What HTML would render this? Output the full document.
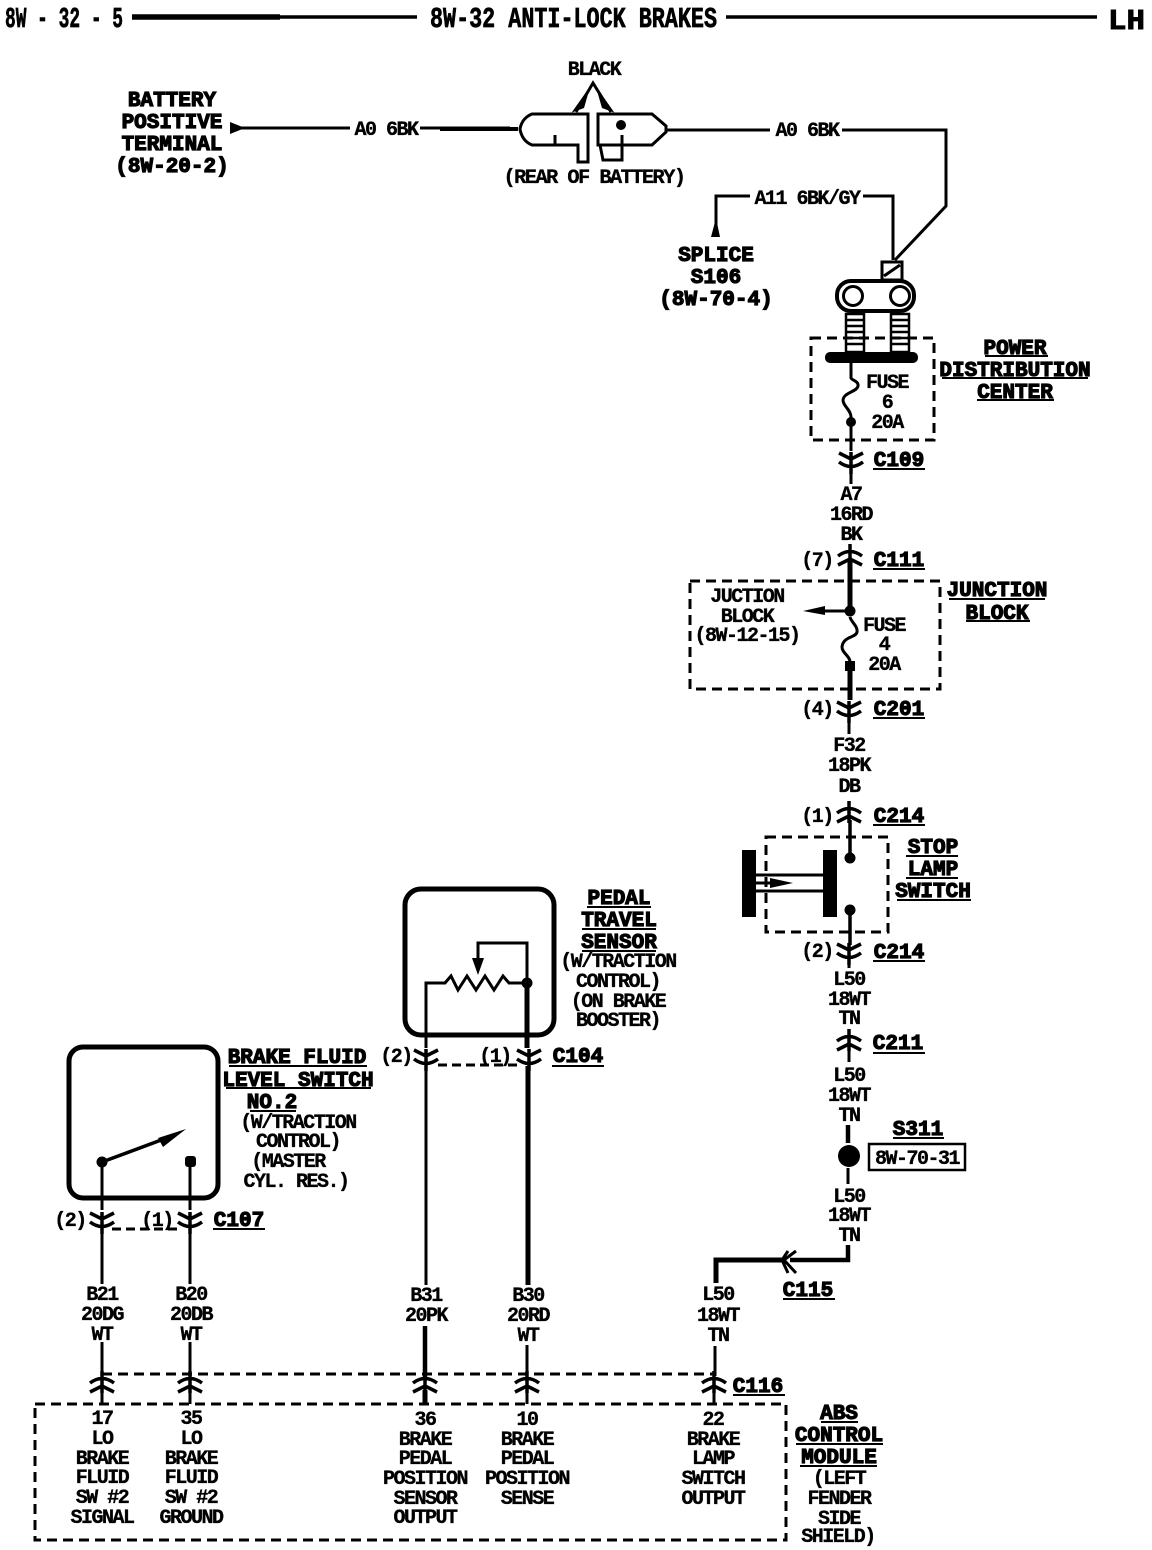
<!DOCTYPE html>
<html><head><meta charset="utf-8"><style>
html,body{margin:0;padding:0;background:#fff}
svg{display:block}
text{font-family:"Liberation Mono",monospace;font-weight:bold;fill:#000}
.t{font-size:20px;letter-spacing:-1.5px;text-anchor:middle;stroke:#000;stroke-width:.35px}
.h{font-size:21px;letter-spacing:0;text-anchor:middle;stroke:#000;stroke-width:1.2px}
.w{fill:none;stroke:#000;stroke-width:3}
.k{fill:none;stroke:#000;stroke-width:5}
.d{fill:none;stroke:#000;stroke-width:3;stroke-dasharray:10 6}
</style></head><body>
<svg width="1152" height="1550" viewBox="0 0 1152 1550" xmlns="http://www.w3.org/2000/svg">
<defs>
<g id="dn"><path d="M-12,-7L0,-1L12,-7M-12,2Q0,11 12,2M0,-8V14" fill="none" stroke="#000" stroke-width="3.5"/></g>
<g id="up"><path d="M-12,7L0,1L12,7M-12,-2Q0,-11 12,-2M0,8V-14" fill="none" stroke="#000" stroke-width="3.5"/></g>
</defs>

<!-- header -->
<text x="5" y="27" textLength="118" lengthAdjust="spacingAndGlyphs" style="font-size:29px;stroke:#000;stroke-width:.7px">8W - 32 - 5</text>
<text x="430" y="27" textLength="287" lengthAdjust="spacingAndGlyphs" style="font-size:29px;stroke:#000;stroke-width:.7px">8W-32 ANTI-LOCK BRAKES</text>
<text x="1108" y="29" textLength="37" lengthAdjust="spacingAndGlyphs" style="font-size:29px;stroke:#000;stroke-width:.9px">LH</text>
<path d="M132,17H280" class="w" style="stroke-width:5.5"/>
<path d="M280,17H417M726,17H1097" class="w" style="stroke-width:3.5"/>

<!-- battery connector -->
<text x="172" y="106" class="h">BATTERY</text>
<text x="172" y="128" class="h">POSITIVE</text>
<text x="172" y="150" class="h">TERMINAL</text>
<text x="172" y="172" class="h">(8W-20-2)</text>
<path d="M231,128H350M420,128H510" class="w"/>
<path d="M230,122V134L245,128Z"/>
<path d="M440,129H518" class="k" style="stroke-width:4"/>
<text x="386" y="135" class="t">A0 6BK</text>
<text x="807" y="136" class="t">A0 6BK</text>
<text x="594" y="75" class="t">BLACK</text>
<path d="M520,129Q522,118 532,114H588V162H578V145H532Q522,141 520,129ZM555,135V145" class="w"/>
<path d="M598,114H652L666,126V132L652,145H598ZM600,145L603,160H622V135" class="w"/>
<circle cx="621" cy="125" r="5"/>
<path d="M576,112L593,83L611,112" fill="none" stroke="#000" stroke-width="3"/>
<path d="M575,110L587,93L583,107ZM611,110L599,93L603,107Z" stroke="#000" stroke-width="2.5"/>
<text x="594" y="183" class="t" textLength="181" lengthAdjust="spacingAndGlyphs">(REAR OF BATTERY)</text>
<path d="M666,130H770M842,130H946V206L895,260" class="w"/>
<path d="M863,196H893V260M750,196H716V226" class="w"/>
<path d="M711,237L716,218L720,237Z"/>
<text x="807" y="204" class="t">A11 6BK/GY</text>
<text x="716" y="261" class="h">SPLICE</text>
<text x="716" y="283" class="h">S106</text>
<text x="716" y="305" class="h">(8W-70-4)</text>

<!-- PDC terminals -->
<rect x="882" y="262" width="20" height="18" class="w"/>
<path d="M884,276L900,265" class="w"/>
<rect x="837" y="281" width="77" height="30" rx="14" fill="#fff" stroke="#000" stroke-width="4"/>
<circle cx="853" cy="296" r="9.5" fill="#fff" stroke="#000" stroke-width="3"/>
<circle cx="900" cy="296" r="9.5" fill="#fff" stroke="#000" stroke-width="3"/>
<path d="M846,314H864V352H846Z" fill="#fff" stroke="#000" stroke-width="2.5"/>
<path d="M891,314H909V352H891Z" fill="#fff" stroke="#000" stroke-width="2.5"/>
<path d="M845,320H865M845,326H865M845,332H865M845,338H865M845,344H865M890,320H910M890,326H910M890,332H910M890,338H910M890,344H910" stroke="#000" stroke-width="2.5"/>
<rect x="825" y="352" width="93" height="11" rx="5"/>
<rect x="811" y="338" width="123" height="102" class="d"/>
<path d="M851,363V378C851,380 859,381 858,386C857,392 844,392 843,400C843,406 851,410 851,417V451" class="w"/>
<circle cx="851" cy="422" r="5"/>
<text x="887" y="388" class="t">FUSE</text>
<text x="887" y="408" class="t">6</text>
<text x="887" y="428" class="t">20A</text>
<text x="1015" y="354" class="h">POWER</text>
<text x="1015" y="376" class="h">DISTRIBUTION</text>
<text x="1015" y="398" class="h">CENTER</text>
<path d="M985,356H1048M942,378H1088M977,400H1054" class="w" style="stroke-width:2"/>

<!-- main wire down -->
<use href="#dn" x="851" y="460"/>
<path d="M851,470V484" class="w"/>
<text x="851" y="500" class="t">A7</text>
<text x="851" y="520" class="t">16RD</text>
<text x="851" y="540" class="t">BK</text>
<use href="#up" x="850" y="558"/>
<text x="899" y="566" class="h">C111</text>
<text x="899" y="466" class="h">C109</text>
<rect x="873" y="468" width="52" height="2"/>
<rect x="873" y="568" width="52" height="2"/>
<rect x="873" y="717" width="52" height="2"/>
<rect x="873" y="824" width="52" height="2"/>
<rect x="873" y="960" width="52" height="2"/>
<rect x="873" y="1052" width="52" height="2"/>
<text x="817" y="566" class="t">(7)</text>

<!-- junction block -->
<rect x="690" y="581" width="250" height="108" class="d"/>
<path d="M850,560V611" class="k"/>
<circle cx="850" cy="611" r="5.5"/>
<path d="M850,611H818" class="w"/>
<path d="M803,611L825,606V615Z"/>
<path d="M850,617C851,622 858,626 857,632C856,638 843,636 842,647C842,653 850,656 850,662" class="w"/>
<rect x="845" y="661" width="10" height="10"/>
<path d="M850,670V700" class="k"/>
<text x="747" y="602" class="t">JUCTION</text>
<text x="747" y="622" class="t">BLOCK</text>
<text x="747" y="641" class="t">(8W-12-15)</text>
<text x="884" y="631" class="t">FUSE</text>
<text x="884" y="650" class="t">4</text>
<text x="884" y="670" class="t">20A</text>
<text x="997" y="596" class="h">JUNCTION</text>
<text x="997" y="619" class="h">BLOCK</text>
<path d="M949,599H1045M966,621H1030" class="w" style="stroke-width:2"/>
<use href="#dn" x="849" y="709"/>
<text x="817" y="715" class="t">(4)</text>
<text x="899" y="715" class="h">C201</text>
<path d="M849,719V734" class="w"/>
<text x="849" y="751" class="t">F32</text>
<text x="849" y="771" class="t">18PK</text>
<text x="849" y="792" class="t">DB</text>
<use href="#up" x="849" y="815"/>
<text x="817" y="822" class="t">(1)</text>
<text x="899" y="822" class="h">C214</text>

<!-- stop lamp switch -->
<rect x="766" y="837" width="122" height="95" class="d"/>
<path d="M850,820V858M850,910V945" class="w" style="stroke-width:3.5"/>
<circle cx="850" cy="858" r="5.5"/>
<circle cx="850" cy="910" r="5.5"/>
<rect x="742" y="850" width="14" height="67"/>
<rect x="823" y="850" width="14" height="67"/>
<path d="M756,875H823M756,891H823M756,883H780" class="w"/>
<path d="M793,883L770,878V888Z"/>
<text x="933" y="853" class="h">STOP</text>
<text x="933" y="875" class="h">LAMP</text>
<text x="933" y="897" class="h">SWITCH</text>
<path d="M906,856H958M906,878H958M897,900H971" class="w" style="stroke-width:2"/>
<use href="#dn" x="849" y="951"/>
<text x="817" y="957" class="t">(2)</text>
<text x="899" y="958" class="h">C214</text>
<path d="M849,961V968" class="w"/>
<text x="849" y="985" class="t">L50</text>
<text x="849" y="1005" class="t">18WT</text>
<text x="849" y="1024" class="t">TN</text>
<use href="#up" x="849" y="1043"/>
<path d="M849,1050V1062" class="w"/>
<text x="898" y="1049" class="h">C211</text>
<text x="849" y="1081" class="t">L50</text>
<text x="849" y="1101" class="t">18WT</text>
<text x="849" y="1121" class="t">TN</text>
<path d="M848,1125V1143" class="k" style="stroke-width:4.5"/>
<path d="M848,1168V1184" class="w"/>
<circle cx="849" cy="1156" r="11"/>
<text x="918" y="1135" class="h">S311</text>
<path d="M893,1138H944" class="w" style="stroke-width:2"/>
<rect x="869" y="1144" width="96" height="26" fill="none" stroke="#000" stroke-width="2.5"/>
<text x="917" y="1164" class="t">8W-70-31</text>
<text x="849" y="1202" class="t">L50</text>
<text x="849" y="1221" class="t">18WT</text>
<text x="849" y="1241" class="t">TN</text>
<path d="M848,1245V1260H790" class="k" style="stroke-width:4.5"/>
<path d="M796,1251L784,1260L796,1273M788,1251L782,1260L788,1273" fill="none" stroke="#000" stroke-width="3"/>
<path d="M782,1260H716V1283" class="k" style="stroke-width:5"/>
<text x="808" y="1296" class="h">C115</text>
<path d="M783,1299H835" class="w" style="stroke-width:2"/>
<text x="718" y="1300" class="t">L50</text>
<text x="718" y="1321" class="t">18WT</text>
<text x="718" y="1341" class="t">TN</text>
<path d="M715,1346V1376" class="w"/>

<!-- pedal travel sensor -->
<rect x="405" y="889" width="149" height="146" rx="16" class="k"/>
<path d="M426,1048V983H445L451,976L458,990L467,976L476,990L485,976L494,990L503,976L509,983H527" class="w"/>
<circle cx="527" cy="983" r="5.5"/>
<path d="M478,968V943H527V983" class="w"/>
<path d="M472,958L478,975L484,958Z"/>
<text x="619" y="904" class="h">PEDAL</text>
<text x="619" y="926" class="h">TRAVEL</text>
<text x="619" y="948" class="h">SENSOR</text>
<path d="M587,907H651M582,929H656M582,951H656" class="w" style="stroke-width:2"/>
<text x="618" y="967" class="t">(W/TRACTION</text>
<text x="618" y="987" class="t">CONTROL)</text>
<text x="618" y="1007" class="t">(ON BRAKE</text>
<text x="618" y="1026" class="t">BOOSTER)</text>
<use href="#dn" x="426" y="1057"/>
<use href="#dn" x="529" y="1057"/>
<text x="396" y="1062" class="t">(2)</text>
<text x="495" y="1062" class="t">(1)</text>
<text x="578" y="1062" class="h">C104</text>
<rect x="552" y="1065" width="52" height="2"/>
<path d="M438,1065H517" class="d" style="stroke-dasharray:9 5"/>
<path d="M426,1065V1285" class="w"/>
<path d="M527,983V1048M528,1066V1285" class="k"/>
<text x="426" y="1301" class="t">B31</text>
<text x="426" y="1321" class="t">20PK</text>
<text x="528" y="1301" class="t">B30</text>
<text x="528" y="1321" class="t">20RD</text>
<text x="528" y="1341" class="t">WT</text>
<path d="M425,1326V1378" class="k" style="stroke-width:4.5"/>
<path d="M527,1345V1378" class="w"/>

<!-- brake fluid switch -->
<rect x="69" y="1047" width="149" height="151" rx="14" class="k"/>
<circle cx="102" cy="1162" r="5.5"/>
<rect x="185" y="1156" width="11" height="11" rx="3"/>
<path d="M102,1162L172,1136" class="w" style="stroke-width:3.5"/>
<path d="M186,1129L158,1138L163,1147Z"/>
<path d="M102,1162V1210M190,1162V1210M102,1228V1284M190,1228V1284M102,1342V1376M190,1342V1376" class="w"/>
<use href="#dn" x="102" y="1220"/>
<use href="#dn" x="190" y="1220"/>
<path d="M112,1229H180" class="d" style="stroke-dasharray:9 5"/>
<text x="70" y="1226" class="t">(2)</text>
<text x="157" y="1226" class="t">(1)</text>
<text x="239" y="1226" class="h">C107</text>
<rect x="213" y="1228" width="52" height="2"/>
<text x="297" y="1063" class="h">BRAKE FLUID</text>
<text x="298" y="1086" class="h">LEVEL SWITCH</text>
<text x="272" y="1108" class="h">NO.2</text>
<path d="M229,1066H367M226,1088H371M250,1111H296" class="w" style="stroke-width:2"/>
<text x="298" y="1128" class="t">(W/TRACTION</text>
<text x="298" y="1147" class="t">CONTROL)</text>
<text x="288" y="1167" class="t">(MASTER</text>
<text x="296" y="1187" class="t">CYL. RES.)</text>
<text x="102" y="1300" class="t">B21</text>
<text x="102" y="1320" class="t">20DG</text>
<text x="102" y="1340" class="t">WT</text>
<text x="191" y="1300" class="t">B20</text>
<text x="191" y="1320" class="t">20DB</text>
<text x="191" y="1340" class="t">WT</text>

<!-- module -->
<path d="M102,1374H714" class="d"/>
<use href="#up" x="102" y="1385"/>
<use href="#up" x="190" y="1385"/>
<use href="#up" x="425" y="1385"/>
<use href="#up" x="527" y="1385"/>
<use href="#up" x="714" y="1385"/>
<path d="M102,1390V1404M190,1390V1404M527,1390V1404M714,1390V1404" class="w"/>
<path d="M425,1390V1404" class="k"/>
<text x="758" y="1392" class="h">C116</text>
<rect x="733" y="1394" width="52" height="2"/>
<rect x="35" y="1404" width="751" height="136" class="d"/>
<text x="102" y="1424" class="t">17</text>
<text x="102" y="1444" class="t">LO</text>
<text x="102" y="1464" class="t">BRAKE</text>
<text x="102" y="1483" class="t">FLUID</text>
<text x="102" y="1503" class="t">SW #2</text>
<text x="102" y="1523" class="t">SIGNAL</text>
<text x="191" y="1424" class="t">35</text>
<text x="191" y="1444" class="t">LO</text>
<text x="191" y="1464" class="t">BRAKE</text>
<text x="191" y="1483" class="t">FLUID</text>
<text x="191" y="1503" class="t">SW #2</text>
<text x="191" y="1523" class="t">GROUND</text>
<text x="425" y="1425" class="t">36</text>
<text x="425" y="1445" class="t">BRAKE</text>
<text x="425" y="1464" class="t">PEDAL</text>
<text x="425" y="1484" class="t">POSITION</text>
<text x="425" y="1504" class="t">SENSOR</text>
<text x="425" y="1523" class="t">OUTPUT</text>
<text x="527" y="1425" class="t">10</text>
<text x="527" y="1445" class="t">BRAKE</text>
<text x="527" y="1464" class="t">PEDAL</text>
<text x="527" y="1484" class="t">POSITION</text>
<text x="527" y="1504" class="t">SENSE</text>
<text x="713" y="1425" class="t">22</text>
<text x="713" y="1445" class="t">BRAKE</text>
<text x="713" y="1464" class="t">LAMP</text>
<text x="713" y="1484" class="t">SWITCH</text>
<text x="713" y="1504" class="t">OUTPUT</text>
<text x="839" y="1419" class="h">ABS</text>
<text x="839" y="1441" class="h">CONTROL</text>
<text x="839" y="1463" class="h">MODULE</text>
<path d="M821,1422H858M796,1444H883M800,1466H877" class="w" style="stroke-width:2"/>
<text x="839" y="1484" class="t">(LEFT</text>
<text x="839" y="1504" class="t">FENDER</text>
<text x="839" y="1524" class="t">SIDE</text>
<text x="838" y="1542" class="t">SHIELD)</text>
</svg>
</body></html>
